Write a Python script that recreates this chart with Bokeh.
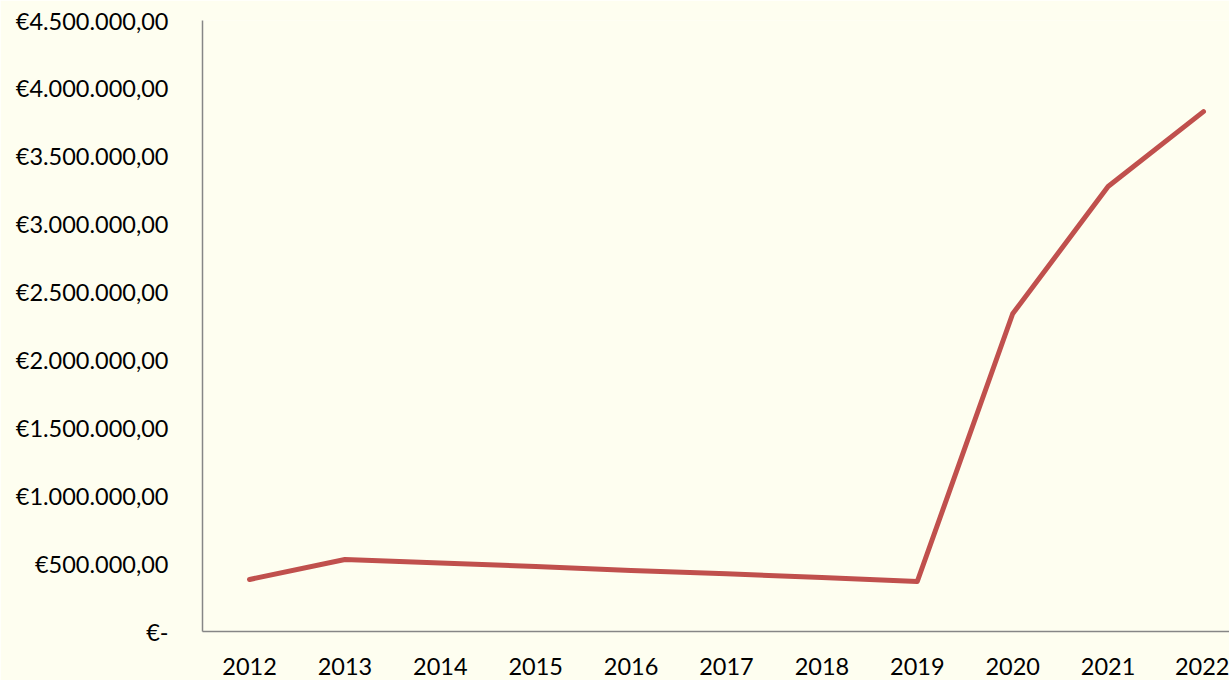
from bokeh.plotting import figure
from bokeh.models import Range1d, FixedTicker
from bokeh.embed import file_html
from bokeh.resources import INLINE

years = [2012, 2013, 2014, 2015, 2016, 2017, 2018, 2019, 2020, 2021, 2022]
values = [383000, 530000, 505000, 478000, 449000, 425000, 398000, 368000, 2340000, 3277000, 3829000]
y_ticks = [0, 500000, 1000000, 1500000, 2000000, 2500000, 3000000, 3500000, 4000000, 4500000]

def eur(v):
    if v == 0:
        return "€-"
    s = "{:,.2f}".format(v).replace(",", "X").replace(".", ",").replace("X", ".")
    return "€" + s

BG = "#FEFEF0"
p = figure(width=1229, height=680, output_backend="svg", toolbar_location=None,
           x_range=Range1d(2011.507, 2022.273), y_range=Range1d(0, 4500000),
           background_fill_color=BG, border_fill_color=BG,
           min_border_left=202, min_border_right=0, min_border_top=20, min_border_bottom=49)
p.outline_line_color = None
p.xgrid.visible = False
p.ygrid.visible = False

p.line(years, values, line_color="#C0504D", line_width=5, line_cap="round", line_join="round")

p.xaxis.ticker = FixedTicker(ticks=years)
p.xaxis.major_label_overrides = {y: str(y) for y in years}
p.yaxis.ticker = FixedTicker(ticks=y_ticks)
p.yaxis.major_label_overrides = {t: eur(t) for t in y_ticks}

for ax in (p.xaxis[0], p.yaxis[0]):
    ax.axis_line_color = "#868686"
    ax.axis_line_width = 1.5
    ax.major_tick_line_color = None
    ax.minor_tick_line_color = None
    ax.major_label_text_font = "Lato"
    ax.major_label_text_font_size = "23.5px"
    ax.major_label_text_color = "#000000"
p.yaxis.major_label_standoff = 28
p.xaxis.major_label_standoff = 20

open("out.html", "w").write(file_html(p, INLINE))
